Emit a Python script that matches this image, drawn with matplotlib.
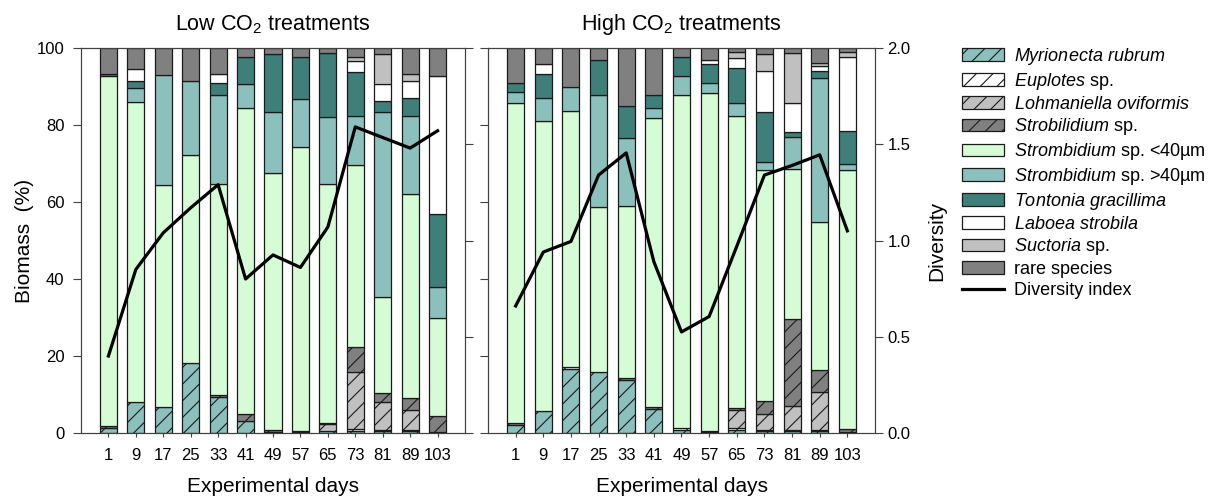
import numpy as np
import matplotlib
matplotlib.use("Agg")
import matplotlib.pyplot as plt
from matplotlib.patches import Patch
from matplotlib.lines import Line2D

plt.rcParams['font.family'] = ['Liberation Sans', 'DejaVu Sans']
plt.rcParams['mathtext.fontset'] = 'custom'
plt.rcParams['mathtext.rm'] = 'Liberation Sans'
plt.rcParams['mathtext.it'] = 'Liberation Sans:italic'
plt.rcParams['hatch.linewidth'] = 0.8

days = ['1', '9', '17', '25', '33', '41', '49', '57', '65', '73', '81', '89', '103']

# biomass (%) per taxon, low CO2
myr_low = [1.4, 8.1, 6.8, 18.1, 9.3, 3.2, 0.2, 0.3, 0.5, 0.6, 0.5, 0.5, 0.3]
eup_low = [0, 0, 0, 0, 0, 0, 0, 0, 0, 0.4, 0.3, 0.3, 0]
loh_low = [0, 0, 0, 0, 0, 0, 0, 0, 1.9, 14.9, 7.3, 5.2, 0]
strob_low = [0.5, 0, 0, 0, 0.6, 1.7, 0.6, 0.2, 0.3, 6.4, 2.4, 3.0, 4.1]
small_low = [90.8, 78.0, 57.6, 54.1, 54.8, 79.4, 66.8, 73.9, 62.1, 47.3, 24.7, 53.1, 25.5]
large_low = [0, 3.4, 28.6, 19.3, 23.1, 6.3, 15.7, 12.3, 17.2, 12.7, 48.3, 20.2, 7.9]
tont_low = [0.5, 2.0, 0, 0, 3.0, 7.0, 15.1, 10.9, 16.8, 11.4, 2.7, 4.8, 19.1]
lab_low = [0, 3.0, 0, 0, 2.4, 0, 0, 0, 0, 2.8, 4.4, 4.2, 35.7]
suct_low = [0, 0, 0, 0, 0, 0, 0, 0, 0, 1.1, 7.8, 1.9, 0]
rare_low = [6.8, 5.5, 7.0, 8.5, 6.8, 2.4, 1.6, 2.4, 1.2, 2.4, 1.6, 6.8, 7.4]

# biomass (%) per taxon, high CO2
myr_high = [2.1, 5.7, 16.5, 15.9, 13.7, 6.2, 0.7, 0.3, 0.7, 0.5, 0.5, 0.5, 0.2]
eup_high = [0, 0, 0.7, 0, 0, 0, 0.7, 0, 0.5, 0.3, 0.3, 0.3, 0]
loh_high = [0, 0, 0, 0, 0, 0, 0, 0, 4.8, 4.1, 6.2, 9.9, 0]
strob_high = [0.4, 0, 0, 0, 0.7, 0.6, 0, 0.2, 0.4, 3.5, 22.5, 5.7, 0.8]
small_high = [83.1, 75.4, 66.5, 42.9, 44.6, 74.9, 86.4, 87.7, 75.9, 59.9, 39.0, 38.5, 67.3]
large_high = [2.9, 5.8, 6.3, 29.0, 17.7, 2.8, 5.0, 2.6, 3.3, 2.2, 8.5, 37.2, 1.5]
tont_high = [2.5, 6.3, 0, 9.1, 8.2, 3.3, 4.8, 5.0, 9.1, 12.8, 1.3, 1.8, 8.7]
lab_high = [0, 2.6, 0, 0, 0, 0, 0, 1.2, 2.6, 10.6, 7.3, 1.4, 19.1]
suct_high = [0, 0, 0, 0, 0, 0, 0, 0, 1.7, 4.5, 13.0, 0.9, 1.3]
rare_high = [9.0, 4.2, 10.0, 3.1, 15.1, 12.2, 2.4, 3.0, 1.0, 1.6, 1.4, 3.8, 1.1]

div_low = [0.40, 0.85, 1.04, 1.17, 1.29, 0.80, 0.925, 0.86, 1.07, 1.59, 1.535, 1.48, 1.57]
div_high = [0.66, 0.94, 0.995, 1.34, 1.455, 0.89, 0.525, 0.605, 0.97, 1.34, 1.39, 1.445, 1.05]

labels = [r'$\mathit{Myrionecta\ rubrum}$', r'$\mathit{Euplotes}$ sp.',
          r'$\mathit{Lohmaniella\ oviformis}$', r'$\mathit{Strobilidium}$ sp.',
          r'$\mathit{Strombidium}$ sp. <40µm', r'$\mathit{Strombidium}$ sp. >40µm',
          r'$\mathit{Tontonia\ gracillima}$', r'$\mathit{Laboea\ strobila}$',
          r'$\mathit{Suctoria}$ sp.', 'rare species']
colors = ['#8cc0bc', '#ffffff', '#c0c0c0', '#808080', '#d6fcd6',
          '#8cc0bc', '#3f7f7a', '#ffffff', '#c0c0c0', '#808080']
hatches = ['//', '//', '//', '//', None, None, None, None, None, None]

low = [myr_low, eup_low, loh_low, strob_low, small_low, large_low, tont_low, lab_low, suct_low, rare_low]
high = [myr_high, eup_high, loh_high, strob_high, small_high, large_high, tont_high, lab_high, suct_high, rare_high]

fig = plt.figure(figsize=(12.15, 5.01), dpi=100)
ax1 = fig.add_axes([81/1215, 68/501, 384/1215, 385/501])
ax2 = fig.add_axes([488/1215, 68/501, 387/1215, 385/501])

x = np.arange(len(days))
spine_c = '#404040'


def draw(ax, data, div, title):
    bottom = np.zeros(len(days))
    for vals, c, h in zip(data, colors, hatches):
        vals = np.array(vals)
        m = vals > 0
        ax.bar(x[m], vals[m], 0.62, bottom=bottom[m], color=c, hatch=h,
               edgecolor='#1a1a1a', linewidth=0.9, zorder=2)
        bottom += vals
    ax.set_xlim(-1, 13)
    ax.set_ylim(0, 100)
    ax.set_xticks(x)
    ax.set_xticklabels(days)
    ax.set_yticks(np.arange(0, 101, 20))
    ax.tick_params(axis='x', length=3, pad=8, labelsize=12, color=spine_c)
    ax.tick_params(axis='y', length=6, pad=6, labelsize=12, color=spine_c)
    for s in ax.spines.values():
        s.set_color(spine_c)
    ax.set_xlabel('Experimental days', fontsize=15, labelpad=10)
    ax.set_title(title, fontsize=15.5, pad=13)
    tw = ax.twinx()
    tw.plot(x, div, color='black', lw=2.3, zorder=5)
    tw.set_ylim(0, 2)
    tw.set_xlim(-1, 13)
    tw.set_yticks([0, 0.5, 1.0, 1.5, 2.0])
    tw.tick_params(axis='y', length=6, pad=3, labelsize=12, color=spine_c)
    for s in tw.spines.values():
        s.set_color(spine_c)
    return tw


t1 = draw(ax1, low, div_low, r'Low CO$_\mathrm{2}$ treatments')
t2 = draw(ax2, high, div_high, r'High CO$_\mathrm{2}$ treatments')

ax1.set_ylabel('Biomass  (%)', fontsize=15, labelpad=2)
ax2.set_yticklabels([])
t1.set_yticklabels([])
t2.set_yticklabels(['0.0', '0.5', '1.0', '1.5', '2.0'])
t2.set_ylabel('Diversity', fontsize=15, labelpad=12)

handles = [Patch(facecolor=c, edgecolor='#1a1a1a', hatch=h, linewidth=0.9)
           for c, h in zip(colors, hatches)]
handles.append(Line2D([], [], color='black', lw=2.3))
fig.legend(handles, labels + ['Diversity index'], loc='upper left',
           bbox_to_anchor=(962/1215, 1 - 46/501), frameon=False,
           fontsize=13, handlelength=2.3, handleheight=0.7,
           handletextpad=0.6, labelspacing=0.21, borderpad=0, borderaxespad=0)

fig.savefig('out.png', dpi=100)
